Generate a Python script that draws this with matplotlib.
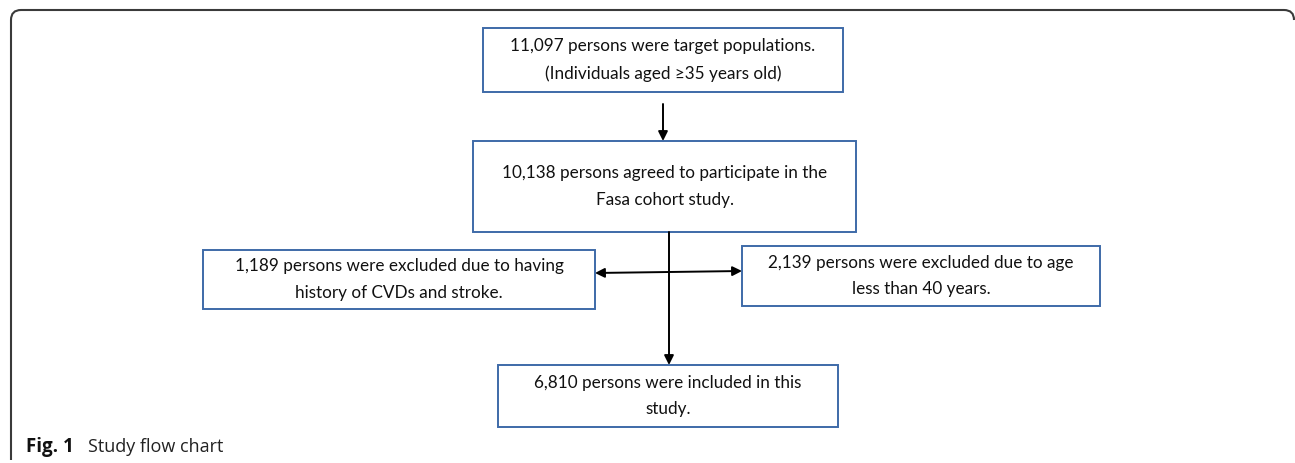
import matplotlib
matplotlib.use("Agg")
import matplotlib.pyplot as plt
from matplotlib.patches import Rectangle, FancyArrowPatch
from matplotlib.path import Path
from matplotlib.patches import PathPatch

# flow chart texts
box_texts = [
    "11,097 persons were target populations.\n(Individuals aged \u226535 years old)",
    "10,138 persons agreed to participate in the\nFasa cohort study.",
    "1,189 persons were excluded due to having\nhistory of CVDs and stroke.",
    "2,139 persons were excluded due to age\nless than 40 years.",
    "6,810 persons were included in this\nstudy.",
]
caption_bold = "Fig. 1"
caption_text = "Study flow chart"

# box geometry in pixel coords: (left, top, right, bottom)
box_geom = [
    (483, 28, 843, 92),
    (473, 141, 856, 232),
    (203, 250, 595, 309),
    (742, 246, 1100, 306),
    (498, 365, 838, 427),
]

W, H = 1295, 463
fig = plt.figure(figsize=(W / 100, H / 100), dpi=100)
ax = fig.add_axes([0, 0, 1, 1])
ax.set_xlim(0, W)
ax.set_ylim(H, 0)
ax.axis("off")

box_color = "#3e6aa8"
for (l, t, r, b), txt in zip(box_geom, box_texts):
    ax.add_patch(Rectangle((l, t), r - l, b - t, fill=False,
                           edgecolor=box_color, linewidth=1.4))
    ax.text((l + r) / 2, (t + b) / 2, txt, ha="center", va="center",
            fontsize=12.3, family="Lato", linespacing=1.8, color="#111111")

arrow_kw = dict(arrowstyle="-|>", mutation_scale=14, color="black", linewidth=1.4,
                shrinkA=0, shrinkB=0)

# arrow box1 -> box2
ax.add_patch(FancyArrowPatch((663, 104), (663, 141), **arrow_kw))
# main trunk box2 -> box5
ax.add_patch(FancyArrowPatch((669, 232), (669, 365), **arrow_kw))
# side arrows to exclusions
ax.add_patch(FancyArrowPatch((669, 272), (595, 273), **arrow_kw))
ax.add_patch(FancyArrowPatch((669, 272), (742, 271), **arrow_kw))

# outer frame with rounded top corners
rad = 10
verts = [(11, 460), (11, 10 + rad), (11, 10), (11 + rad, 10),
         (1284, 10), (1294, 10), (1294, 20)]
codes = [Path.MOVETO, Path.LINETO, Path.CURVE3, Path.CURVE3,
         Path.LINETO, Path.CURVE3, Path.CURVE3]
ax.add_patch(PathPatch(Path(verts, codes), fill=False, edgecolor="#3a3a3a",
                       linewidth=1.5))

ax.text(26, 447, caption_bold, ha="left", va="center", fontsize=13.5,
        family="Open Sans", fontweight="bold", color="#111111")
ax.text(88, 447, caption_text, ha="left", va="center", fontsize=13,
        family="Open Sans", color="#222222")

fig.savefig("out.png", dpi=100, facecolor="white")
